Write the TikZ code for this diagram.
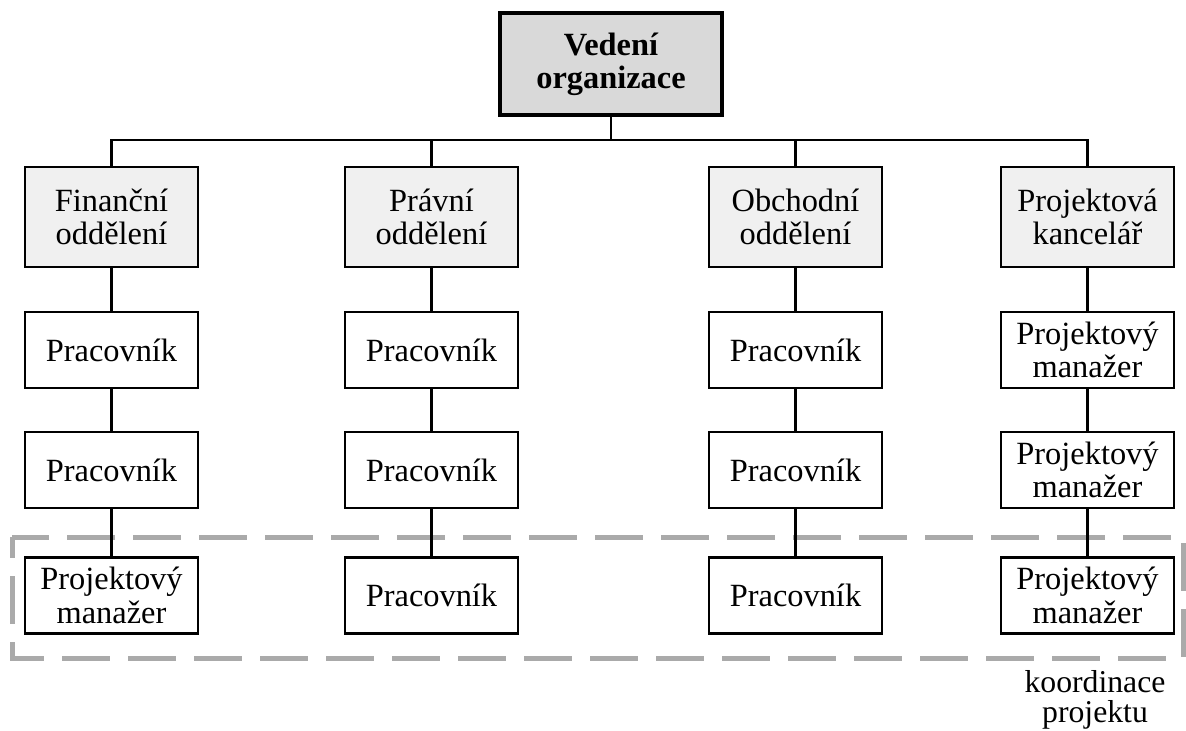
\documentclass[tikz,border=0pt]{standalone}
\usepackage{fontspec}
\setmainfont{Liberation Serif}
\definecolor{headfill}{HTML}{D9D9D9}
\definecolor{deptfill}{HTML}{F0F0F0}
\definecolor{frameGray}{HTML}{AAAAAA}
\begin{document}
\begin{tikzpicture}[x=0.75pt,y=-0.75pt,
  base/.style={draw=black, line width=2pt, align=center, inner sep=0pt,
    font=\fontsize{24.3}{25}\selectfont},
  headbox/.style={base, fill=headfill, line width=3.2pt,
    minimum width=166.5pt, minimum height=76.5pt,
    font=\fontsize{24.3}{25}\selectfont\bfseries},
  deptbox/.style={base, fill=deptfill, minimum width=129.75pt, minimum height=75pt},
  staffbox/.style={base, fill=white, minimum width=129.75pt, minimum height=57pt},
  link/.style={line width=2pt, black},
  coord/.style={draw=frameGray, line width=3.75pt, dash pattern=on 36pt off 13.5pt, dash phase=20pt}
]
\useasboundingbox (0,0) rectangle (1186,731);

% project coordination frame (behind everything)
\draw[coord] (12,537) rectangle (1183,658);

% top management
\node[headbox] (top) at (611,64) {Vedení\\organizace};

% departments
\node[deptbox] (fin) at (111.5,217) {Finanční\\oddělení};
\node[deptbox] (law) at (431.5,217) {Právní\\oddělení};
\node[deptbox] (sal) at (795.5,217) {Obchodní\\oddělení};
\node[deptbox] (pmo) at (1087.5,217) {Projektová\\kancelář};

% staff, column 1
\node[staffbox] (fin1) at (111.5,350) {Pracovník};
\node[staffbox] (fin2) at (111.5,470) {Pracovník};
\node[staffbox] (fin3) at (111.5,595.5) {Projektový\\manažer};
% staff, column 2
\node[staffbox] (law1) at (431.5,350) {Pracovník};
\node[staffbox] (law2) at (431.5,470) {Pracovník};
\node[staffbox] (law3) at (431.5,595.5) {Pracovník};
% staff, column 3
\node[staffbox] (sal1) at (795.5,350) {Pracovník};
\node[staffbox] (sal2) at (795.5,470) {Pracovník};
\node[staffbox] (sal3) at (795.5,595.5) {Pracovník};
% staff, column 4
\node[staffbox] (pmo1) at (1087.5,350) {Projektový\\manažer};
\node[staffbox] (pmo2) at (1087.5,470) {Projektový\\manažer};
\node[staffbox] (pmo3) at (1087.5,595.5) {Projektový\\manažer};

% frame caption
\node[align=center, inner sep=0pt, font=\fontsize{23.8}{23}\selectfont] (cap) at (1095,700) {koordinace\\projektu};

% connectors
\coordinate (bus) at (611,140);
\draw[link] (top.south) -- (bus);
\foreach \d in {fin,law,sal,pmo}{
  \draw[link] (bus) -| (\d.north);
  \draw[link] (\d.south) -- (\d1.north);
  \draw[link] (\d1.south) -- (\d2.north);
  \draw[link] (\d2.south) -- (\d3.north);
}
\end{tikzpicture}
\end{document}
